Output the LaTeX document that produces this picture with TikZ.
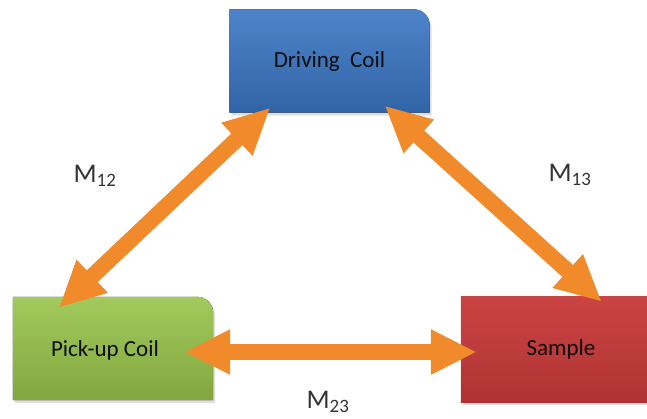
\documentclass[tikz,border=0pt]{standalone}
\usepackage{fontspec}
\setmainfont{Carlito}
\usetikzlibrary{arrows.meta,shadows,backgrounds}

\definecolor{coilblue}{RGB}{58,118,196}
\definecolor{coilgreen}{RGB}{152,196,74}
\definecolor{samplered}{RGB}{200,58,58}
\definecolor{linkorange}{RGB}{240,138,42}

\begin{document}
\begin{tikzpicture}[x=1pt,y=1pt,
	box/.style={minimum width=200pt,minimum height=103pt,inner sep=0pt,
		font=\fontsize{23}{26}\selectfont,text=black!95},
	link/.style={line width=16pt,draw=linkorange,
		{Triangle[length=46pt,width=42pt]}-{Triangle[length=46pt,width=42pt]}},
	mlabel/.style={font=\fontsize{27}{30}\selectfont,text=black!80}]
\clip (0,0) rectangle (647,418);

\node[box] (drive) at (329.5,357) {Driving\ \ Coil};
\node[box,text depth=0pt] (pick) at (113,69.5) {\hspace*{-16pt}Pick-up Coil};
\node[box,minimum height=105pt] (sample) at (561,68.5) {Sample};

% boxes, top right corner rounded
\begin{scope}[on background layer]
	\foreach \n/\c in {drive/coilblue,pick/coilgreen}{
		\fill[drop shadow={shadow xshift=2pt,shadow yshift=-3pt,opacity=0.25},
			top color=\c!90!white,bottom color=\c!85!black]
			(\n.south west) -- (\n.north west) -- ([xshift=-16pt]\n.north east)
			arc[start angle=90,end angle=0,radius=16pt] -- (\n.south east) -- cycle;
	}
	\fill[drop shadow={shadow xshift=2pt,shadow yshift=-3pt,opacity=0.25},
		top color=samplered!95!white,bottom color=samplered!88!black]
		(sample.south west) rectangle (sample.north east);
\end{scope}

% mutual inductances
\draw[link] ([xshift=41pt,yshift=5pt]drive.south west) -- ([xshift=46pt,yshift=-11pt]pick.north west);
\draw[link] ([xshift=-45pt,yshift=7pt]drive.south east) -- ([xshift=141pt,yshift=-5pt]sample.north west);
\draw[link] ([xshift=-29pt,yshift=-3.5pt]pick.east) -- ([xshift=16pt,yshift=-2.5pt]sample.west);

\node[mlabel] (m12) at (95,242) {M\textsubscript{12}};
\node[mlabel] (m13) at (570,243) {M\textsubscript{13}};
\node[mlabel] (m23) at (328,16) {M\textsubscript{23}};
\end{tikzpicture}
\end{document}
